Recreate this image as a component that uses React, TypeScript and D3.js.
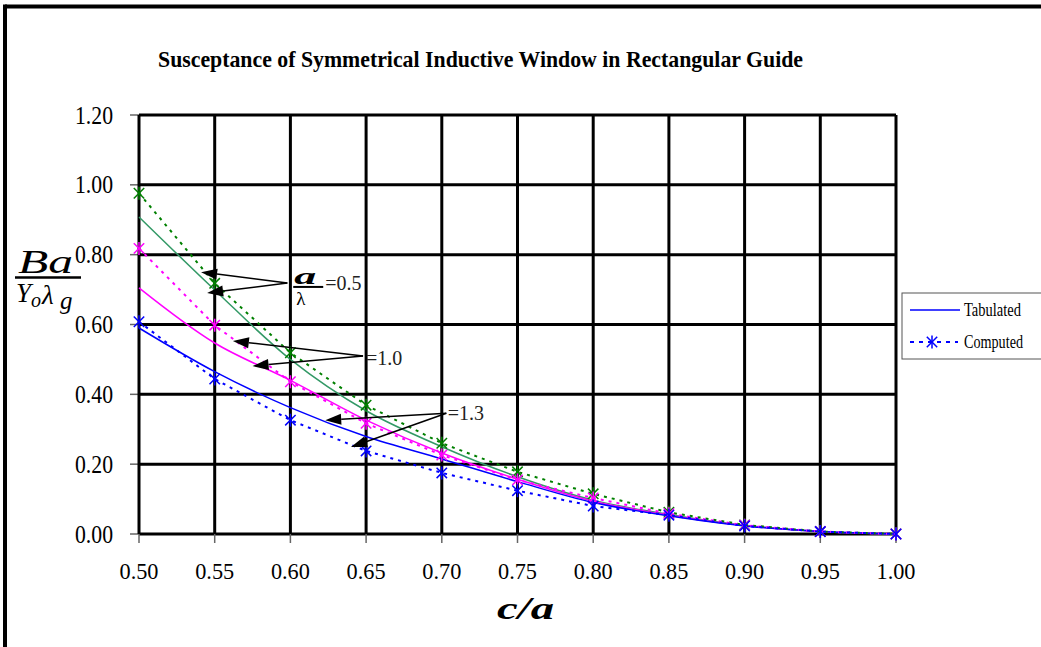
import React from "react";
import * as d3 from "d3";

// c/a values along the horizontal axis
const RATIOS = [0.5, 0.55, 0.6, 0.65, 0.7, 0.75, 0.8, 0.85, 0.9, 0.95, 1.0];
const X_TICKS = [0.5, 0.55, 0.6, 0.65, 0.7, 0.75, 0.8, 0.85, 0.9, 0.95, 1.0];
const Y_TICKS = [0, 0.2, 0.4, 0.6, 0.8, 1.0, 1.2];

// Tabulated susceptance (smooth curves)
const TAB_05 = [0.908, 0.699, 0.5, 0.353, 0.25, 0.164, 0.097, 0.056, 0.025, 0.007, 0];
const TAB_10 = [0.705, 0.547, 0.44, 0.326, 0.232, 0.157, 0.094, 0.054, 0.024, 0.007, 0];
const TAB_13 = [0.59, 0.465, 0.362, 0.279, 0.215, 0.15, 0.09, 0.052, 0.023, 0.007, 0];

// Computed susceptance (dotted with star markers)
const COMP_05 = [0.976, 0.718, 0.519, 0.369, 0.26, 0.178, 0.115, 0.062, 0.026, 0.007, 0];
const COMP_10 = [0.818, 0.598, 0.436, 0.317, 0.226, 0.155, 0.103, 0.058, 0.025, 0.007, 0];
const COMP_13 = [0.608, 0.444, 0.326, 0.238, 0.175, 0.124, 0.08, 0.054, 0.023, 0.007, 0];

const SERIES = [
  { name: "0.5", tab: TAB_05, comp: COMP_05, tabColor: "#339966", compColor: "#008000" },
  { name: "1.0", tab: TAB_10, comp: COMP_10, tabColor: "#ff00ff", compColor: "#ff00ff" },
  { name: "1.3", tab: TAB_13, comp: COMP_13, tabColor: "#0000ff", compColor: "#0000ff" },
];

// Callouts: label anchor and arrow tips, in data units
const CALLOUTS = [
  { text: "=0.5", tail: [0.598, 0.719], tips: [[0.541, 0.75], [0.545, 0.69]], label: [0.623, 0.699], frac: true },
  { text: "=1.0", tail: [0.648, 0.51], tips: [[0.562, 0.553], [0.575, 0.481]], label: [0.65, 0.484], frac: false },
  { text: "=1.3", tail: [0.703, 0.346], tips: [[0.623, 0.326], [0.64, 0.249]], label: [0.704, 0.326], frac: false },
];

const W = 1041;
const H = 647;
const SERIF = "'Liberation Serif', 'Times New Roman', serif";

const x = d3.scaleLinear().domain([0.5, 1.0]).range([139, 896]);
const y = d3.scaleLinear().domain([0, 1.2]).range([534, 115]);

function Star({ cx, cy, color, r = 6.5 }: { cx: number; cy: number; color: string; r?: number }) {
  const d = r * 0.8;
  return (
    <g stroke={color} strokeWidth={1.5}>
      <line x1={cx} y1={cy - r} x2={cx} y2={cy + r} />
      <line x1={cx - d} y1={cy - d} x2={cx + d} y2={cy + d} />
      <line x1={cx - d} y1={cy + d} x2={cx + d} y2={cy - d} />
    </g>
  );
}

function Arrow({ from, to }: { from: [number, number]; to: [number, number] }) {
  const [x1, y1] = from;
  const [x2, y2] = to;
  const ang = Math.atan2(y2 - y1, x2 - x1);
  const len = 16;
  const half = 5.5;
  const bx = x2 - len * Math.cos(ang);
  const by = y2 - len * Math.sin(ang);
  const px = -Math.sin(ang) * half;
  const py = Math.cos(ang) * half;
  return (
    <g>
      <line x1={x1} y1={y1} x2={bx} y2={by} stroke="#000" strokeWidth={1.5} />
      <path d={`M${x2},${y2}L${bx + px},${by + py}L${bx - px},${by - py}Z`} fill="#000" />
    </g>
  );
}

export default function App() {
  const smooth = d3
    .line<number>()
    .x((_, i) => x(RATIOS[i]))
    .y((v) => y(v))
    .curve(d3.curveCatmullRom.alpha(0.5));
  const straight = d3
    .line<number>()
    .x((_, i) => x(RATIOS[i]))
    .y((v) => y(v));

  return (
    <svg
      width={W}
      height={H}
      style={{ position: "absolute", left: 0, top: 0, display: "block", background: "#fff" }}
      fontFamily={SERIF}
    >
      <rect x={0} y={0} width={W} height={H} fill="#fff" />
      {/* outer frame */}
      <line x1={5} y1={6.5} x2={W + 5} y2={6.5} stroke="#000" strokeWidth={4} />
      <line x1={5} y1={4.5} x2={5} y2={H + 5} stroke="#000" strokeWidth={4} />

      {/* title */}
      <text
        x={158}
        y={67}
        fontSize={23}
        fontWeight="bold"
        textLength={645}
        lengthAdjust="spacingAndGlyphs"
      >
        Susceptance of Symmetrical Inductive Window in Rectangular Guide
      </text>

      {/* gridlines */}
      {Y_TICKS.map((t) => (
        <g key={`gy${t}`}>
          <line x1={130} x2={139} y1={y(t)} y2={y(t)} stroke="#666" strokeWidth={1.5} />
          <line x1={139} x2={896} y1={y(t)} y2={y(t)} stroke="#000" strokeWidth={3} />
        </g>
      ))}
      {X_TICKS.map((t) => (
        <g key={`gx${t}`}>
          <line x1={x(t)} x2={x(t)} y1={534} y2={543} stroke="#666" strokeWidth={1.5} />
          <line x1={x(t)} x2={x(t)} y1={115} y2={534} stroke="#000" strokeWidth={3} />
        </g>
      ))}

      {/* y tick labels */}
      {Y_TICKS.map((t) => (
        <text
          key={`ly${t}`}
          x={75}
          y={y(t) + 8.5}
          fontSize={26}
          textLength={38}
          lengthAdjust="spacingAndGlyphs"
        >
          {t.toFixed(2)}
        </text>
      ))}
      {/* x tick labels */}
      {X_TICKS.map((t) => (
        <text
          key={`lx${t}`}
          x={x(t) - 19.5}
          y={579}
          fontSize={23}
          textLength={39}
          lengthAdjust="spacingAndGlyphs"
        >
          {t.toFixed(2)}
        </text>
      ))}

      {/* tabulated curves */}
      {SERIES.map((s) => (
        <path key={`t${s.name}`} d={smooth(s.tab) || ""} fill="none" stroke={s.tabColor} strokeWidth={1.5} />
      ))}
      {/* computed curves */}
      {SERIES.map((s) => (
        <g key={`c${s.name}`}>
          <path
            d={straight(s.comp) || ""}
            fill="none"
            stroke={s.compColor}
            strokeWidth={2}
            strokeDasharray="3,5"
          />
          {s.comp.map((v, i) => (
            <Star key={i} cx={x(RATIOS[i])} cy={y(v)} color={s.compColor} />
          ))}
        </g>
      ))}

      {/* callouts */}
      {CALLOUTS.map((c) => (
        <g key={c.text}>
          {c.tips.map((tp, i) => (
            <Arrow
              key={i}
              from={[x(c.tail[0]), y(c.tail[1])]}
              to={[x(tp[0]), y(tp[1])]}
            />
          ))}
          {c.frac && (
            <g>
              <text
                x={x(c.label[0]) - 31}
                y={y(c.label[1]) - 6}
                fontSize={24}
                fontStyle="italic"
                fontWeight="bold"
                textLength={22}
                lengthAdjust="spacingAndGlyphs"
              >
                a
              </text>
              <line
                x1={x(c.label[0]) - 32}
                x2={x(c.label[0]) - 2}
                y1={y(c.label[1]) - 3}
                y2={y(c.label[1]) - 3}
                stroke="#000"
                strokeWidth={2}
              />
              <text x={x(c.label[0]) - 29} y={y(c.label[1]) + 15} fontSize={19}>
                λ
              </text>
            </g>
          )}
          <text x={x(c.label[0])} y={y(c.label[1])} fontSize={20} fill="#222">
            {c.text}
          </text>
        </g>
      ))}

      {/* y-axis title: Ba / Y0 λg */}
      <g fontStyle="italic">
        <text x={18} y={273} fontSize={34} textLength={55} lengthAdjust="spacingAndGlyphs">
          Ba
        </text>
        <line x1={15} x2={81} y1={277.5} y2={277.5} stroke="#000" strokeWidth={2.5} />
        <text x={16} y={302} fontSize={27}>
          Y
        </text>
        <text x={31} y={307} fontSize={20}>
          o
        </text>
        <text x={42} y={304} fontSize={27}>
          λ
        </text>
        <text x={60} y={309} fontSize={25}>
          g
        </text>
      </g>

      {/* x-axis title */}
      <text
        x={497}
        y={619}
        fontSize={32}
        fontStyle="italic"
        fontWeight="bold"
        textLength={57}
        lengthAdjust="spacingAndGlyphs"
      >
        c/a
      </text>

      {/* legend */}
      <g>
        <rect x={902} y={293} width={140} height={66} fill="#fff" stroke="#555" strokeWidth={1} />
        <line x1={910} x2={960} y1={310} y2={310} stroke="#0000ff" strokeWidth={1.5} />
        <text x={964} y={316} fontSize={18} textLength={57} lengthAdjust="spacingAndGlyphs">
          Tabulated
        </text>
        <line x1={910} x2={958} y1={342} y2={342} stroke="#0000ff" strokeWidth={2} strokeDasharray="4,5" />
        <Star cx={932} cy={342} color="#0000ff" />
        <text x={964} y={348} fontSize={18} textLength={59} lengthAdjust="spacingAndGlyphs">
          Computed
        </text>
      </g>
    </svg>
  );
}
